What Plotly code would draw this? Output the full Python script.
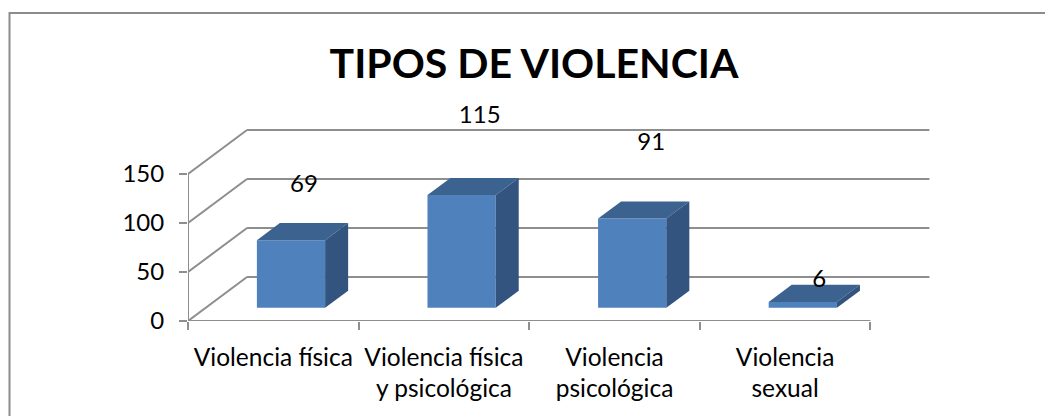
import plotly.graph_objects as go

categories = ["Violencia física", "Violencia física<br>y psicológica", "Violencia<br>psicológica", "Violencia<br>sexual"]
values = [69, 115, 91, 6]
y_ticks = [0, 50, 100, 150]
# where Excel floated each data label: above the value in value units, right of the centre in categories
label_lift = [69, 93, 90, 35]
label_shift = [0.18, 0.21, 0.215, 0.2]

W, H = 1045, 416
PLOT_L, PLOT_R, PLOT_T, PLOT_B = 188, 930, 90, 321
PX_PER_CATEGORY = 170.6
PX_PER_UNIT = 0.98

# the fake 3d box, in axis units
DEPTH_X = 59 / PX_PER_CATEGORY
DEPTH_Y = 44 / PX_PER_UNIT
BAR_WIDTH = 0.4
BAR_NEAR = 0.3
BAR_FAR = 0.69

FONT = "Lato"
GRID = "#8e8e8e"


def px_x(p):
    return (p - PLOT_L) / (PLOT_R - PLOT_L)


def px_y(p):
    return (PLOT_B - p) / (PLOT_B - PLOT_T)


def segment(x0, y0, x1, y1):
    return dict(type="line", xref="x", yref="y", x0=x0, y0=y0, x1=x1, y1=y1,
                layer="below", line=dict(color=GRID, width=2))


n = len(categories)
centers = [i + 0.5 for i in range(n)]
front_x = [c + BAR_NEAR * DEPTH_X for c in centers]
base = BAR_NEAR * DEPTH_Y

shapes = []
for t in y_ticks:
    shapes.append(segment(0, t, DEPTH_X, t + DEPTH_Y))
    shapes.append(segment(DEPTH_X, t + DEPTH_Y, n + DEPTH_X, t + DEPTH_Y))
shapes.append(segment(0, 0, 0, y_ticks[-1]))
shapes.append(segment(0, 0, n, 0))
shapes.append(dict(type="rect", xref="paper", yref="paper",
                   x0=px_x(9.5), x1=px_x(1060), y0=px_y(13), y1=px_y(430),
                   layer="below", line=dict(color="#8c8c8c", width=2)))

fig = go.Figure()

fig.add_trace(go.Bar(x=front_x, y=values, base=[base] * n, width=BAR_WIDTH,
                     marker=dict(color="#4f81bd", line=dict(width=0))))

extrude_x = (BAR_FAR - BAR_NEAR) * DEPTH_X
extrude_y = (BAR_FAR - BAR_NEAR) * DEPTH_Y
for fx, v in zip(front_x, values):
    left, right = fx - BAR_WIDTH / 2, fx + BAR_WIDTH / 2
    top = base + v
    fig.add_trace(go.Scatter(
        x=[left, right, right + extrude_x, left + extrude_x, left],
        y=[top, top, top + extrude_y, top + extrude_y, top],
        mode="lines", fill="toself", fillcolor="#3c6390", line=dict(width=0)))
    fig.add_trace(go.Scatter(
        x=[right, right + extrude_x, right + extrude_x, right, right],
        y=[base, base + extrude_y, top + extrude_y, top, base],
        mode="lines", fill="toself", fillcolor="#32547f", line=dict(width=0)))

fig.add_trace(go.Scatter(
    x=[c + s for c, s in zip(centers, label_shift)],
    y=[v + lift for v, lift in zip(values, label_lift)],
    text=[str(v) for v in values],
    mode="text", cliponaxis=False,
    textfont=dict(family=FONT, size=24, color="#000000")))

fig.update_layout(
    width=W, height=H, autosize=False, showlegend=False, hovermode=False,
    paper_bgcolor="white", plot_bgcolor="white",
    margin=dict(l=PLOT_L, r=W - PLOT_R, t=PLOT_T, b=H - PLOT_B, pad=0),
    font=dict(family=FONT, size=24, color="#000000"),
    title=dict(text="<b>TIPOS DE VIOLENCIA</b>", x=534 / W, xanchor="center",
               y=1 - 64 / H, yanchor="middle", font=dict(family=FONT, size=41, color="#000000")),
    shapes=shapes,
)
fig.update_xaxes(
    range=[0, (PLOT_R - PLOT_L) / PX_PER_CATEGORY], showgrid=False, zeroline=False, showline=False,
    tickmode="array", tickvals=centers, ticktext=categories, ticks="", ticklabelstandoff=19,
    tickfont=dict(size=24.5),
    minor=dict(tickmode="array", tickvals=list(range(n + 1)), ticks="outside",
               ticklen=8, tickwidth=2, tickcolor=GRID, showgrid=False),
)
fig.update_yaxes(
    range=[0, (PLOT_B - PLOT_T) / PX_PER_UNIT], showgrid=False, zeroline=False, showline=False,
    tickmode="array", tickvals=y_ticks, ticks="outside", ticklen=8, tickwidth=2, tickcolor=GRID,
    ticklabelstandoff=10,
)

# the page's default body margin would push the chart 8px right and down
fig.write_html("out.html", post_script="document.body.style.margin='0';",
               config=dict(displayModeBar=False))
